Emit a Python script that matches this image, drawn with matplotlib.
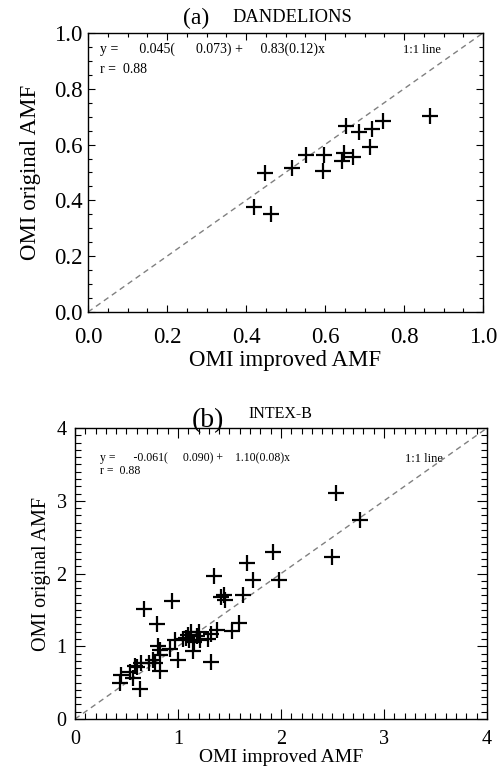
import matplotlib
matplotlib.use("Agg")
import matplotlib.pyplot as plt
from matplotlib.ticker import MultipleLocator

plt.rcParams['font.family'] = ['Liberation Serif', 'DejaVu Serif']

# Panel (a) DANDELIONS
a_improved = [0.866, 0.746, 0.720, 0.687, 0.652, 0.713, 0.670, 0.648, 0.642,
              0.597, 0.596, 0.552, 0.516, 0.448, 0.419, 0.463]
a_original = [0.704, 0.686, 0.655, 0.646, 0.667, 0.592, 0.554, 0.569, 0.541,
              0.561, 0.506, 0.561, 0.515, 0.497, 0.377, 0.351]

# Panel (b) INTEX-B
b_improved = [2.53, 2.77, 2.50, 1.92, 1.67, 1.73, 1.98, 1.35, 1.42, 1.45, 1.46, 1.63,
              0.94, 0.67, 0.80, 1.59, 1.52, 1.38, 1.32, 1.29, 1.32, 1.20, 1.21, 1.16,
              1.15, 1.13, 1.11, 1.08, 1.05, 0.97, 1.00, 0.92, 0.83, 0.83, 0.81, 0.78,
              0.83, 0.76, 0.72, 0.64, 0.58, 0.56, 0.63, 0.45, 0.44, 0.53, 0.60, 1.10, 1.18]
b_original = [3.11, 2.73, 2.23, 2.29, 2.14, 1.91, 1.91, 1.97, 1.68, 1.71, 1.64, 1.70,
              1.62, 1.51, 1.30, 1.32, 1.21, 1.23, 1.17, 1.10, 0.78, 1.19, 1.09, 1.06,
              0.93, 1.20, 1.09, 1.11, 1.10, 1.08, 0.81, 0.96, 0.95, 0.88, 1.00, 0.77,
              0.66, 0.81, 0.77, 0.77, 0.73, 0.56, 0.41, 0.61, 0.49, 0.64, 0.72, 1.15, 1.14]

a_ticks = [0.0, 0.2, 0.4, 0.6, 0.8, 1.0]
b_ticks = [0, 1, 2, 3, 4]

a_eq = "y =      0.045(      0.073) +     0.83(0.12)x"
b_eq = "y =      -0.061(     0.090) +    1.10(0.08)x"
r_txt = "r =  0.88"

fig = plt.figure(figsize=(5.02, 7.71), dpi=100)

def style(ax, major, minor, maj_len, min_len, lab_size, xpad, ypad):
    ax.xaxis.set_major_locator(MultipleLocator(major))
    ax.yaxis.set_major_locator(MultipleLocator(major))
    ax.xaxis.set_minor_locator(MultipleLocator(minor))
    ax.yaxis.set_minor_locator(MultipleLocator(minor))
    ax.tick_params(which='both', direction='in', top=True, right=True,
                   width=0.8, colors='black')
    ax.tick_params(which='major', length=maj_len, labelsize=lab_size)
    ax.tick_params(axis='x', which='major', pad=xpad)
    ax.tick_params(axis='y', which='major', pad=ypad)
    ax.tick_params(which='minor', length=min_len)
    for s in ax.spines.values():
        s.set_linewidth(1.0)

# ---- panel a ----
ax1 = fig.add_axes([0.1753, 0.5953, 0.787, 0.362])
ax1.plot([0, 1], [0, 1], ls=(0, (4, 3)), color='#808080', lw=1.0)
ax1.plot(a_improved, a_original, ls='none', marker='+', ms=12, mew=1.6, color='black')
ax1.set_xlim(0, 1)
ax1.set_ylim(0, 1)
style(ax1, 0.2, 0.05, 5, 3, 16.5, 11, 4)
ax1.set_xticks(a_ticks)
ax1.set_yticks(a_ticks)
ax1.set_xticklabels([f"{t:.1f}" for t in a_ticks])
ax1.set_yticklabels([f"{t:.1f}" for t in a_ticks])
ax1.set_xlabel("OMI improved AMF", fontsize=16.5, labelpad=1)
ax1.set_ylabel("OMI original AMF", fontsize=16.5, labelpad=9)
ax1.text(0.03, 0.94, a_eq, transform=ax1.transAxes, fontsize=10, va='center')
ax1.text(0.03, 0.868, r_txt, transform=ax1.transAxes, fontsize=10, va='center')
ax1.text(0.797, 0.94, "1:1 line", transform=ax1.transAxes, fontsize=9, va='center')
fig.text(183 / 502, 1 - 18 / 771, "(a)", fontsize=17, va='center', ha='left')
fig.text(232 / 502, 1 - 18 / 771, "DANDELIONS", fontsize=13.3, va='center', ha='left')

# ---- panel b ----
ax2 = fig.add_axes([0.1494, 0.0674, 0.8207, 0.3774])
ax2.plot([0, 4], [0, 4], ls=(0, (4, 3)), color='#808080', lw=1.0)
ax2.plot(b_improved, b_original, ls='none', marker='+', ms=12, mew=1.6, color='black')
ax2.set_xlim(0, 4)
ax2.set_ylim(0, 4)
style(ax2, 1, 0.1, 7, 4, 14.5, 8, 6)
ax2.set_xticks(b_ticks)
ax2.set_yticks(b_ticks)
ax2.set_xticklabels([str(t) for t in b_ticks])
ax2.set_yticklabels([str(t) for t in b_ticks])
ax2.set_xlabel("OMI improved AMF", fontsize=14, labelpad=0)
ax2.set_ylabel("OMI original AMF", fontsize=14.5, labelpad=4)
ax2.text(0.061, 0.897, b_eq, transform=ax2.transAxes, fontsize=8.5, va='center')
ax2.text(0.061, 0.852, r_txt, transform=ax2.transAxes, fontsize=8.5, va='center')
ax2.text(0.80, 0.893, "1:1 line", transform=ax2.transAxes, fontsize=9, va='center')
fig.text(192 / 502, 1 - 421 / 771, "(b)", fontsize=20, va='center', ha='left')
fig.text(248 / 502, 1 - 414 / 771, "INTEX-B", fontsize=11.5, va='center', ha='left')

fig.savefig("out.png", dpi=100)
